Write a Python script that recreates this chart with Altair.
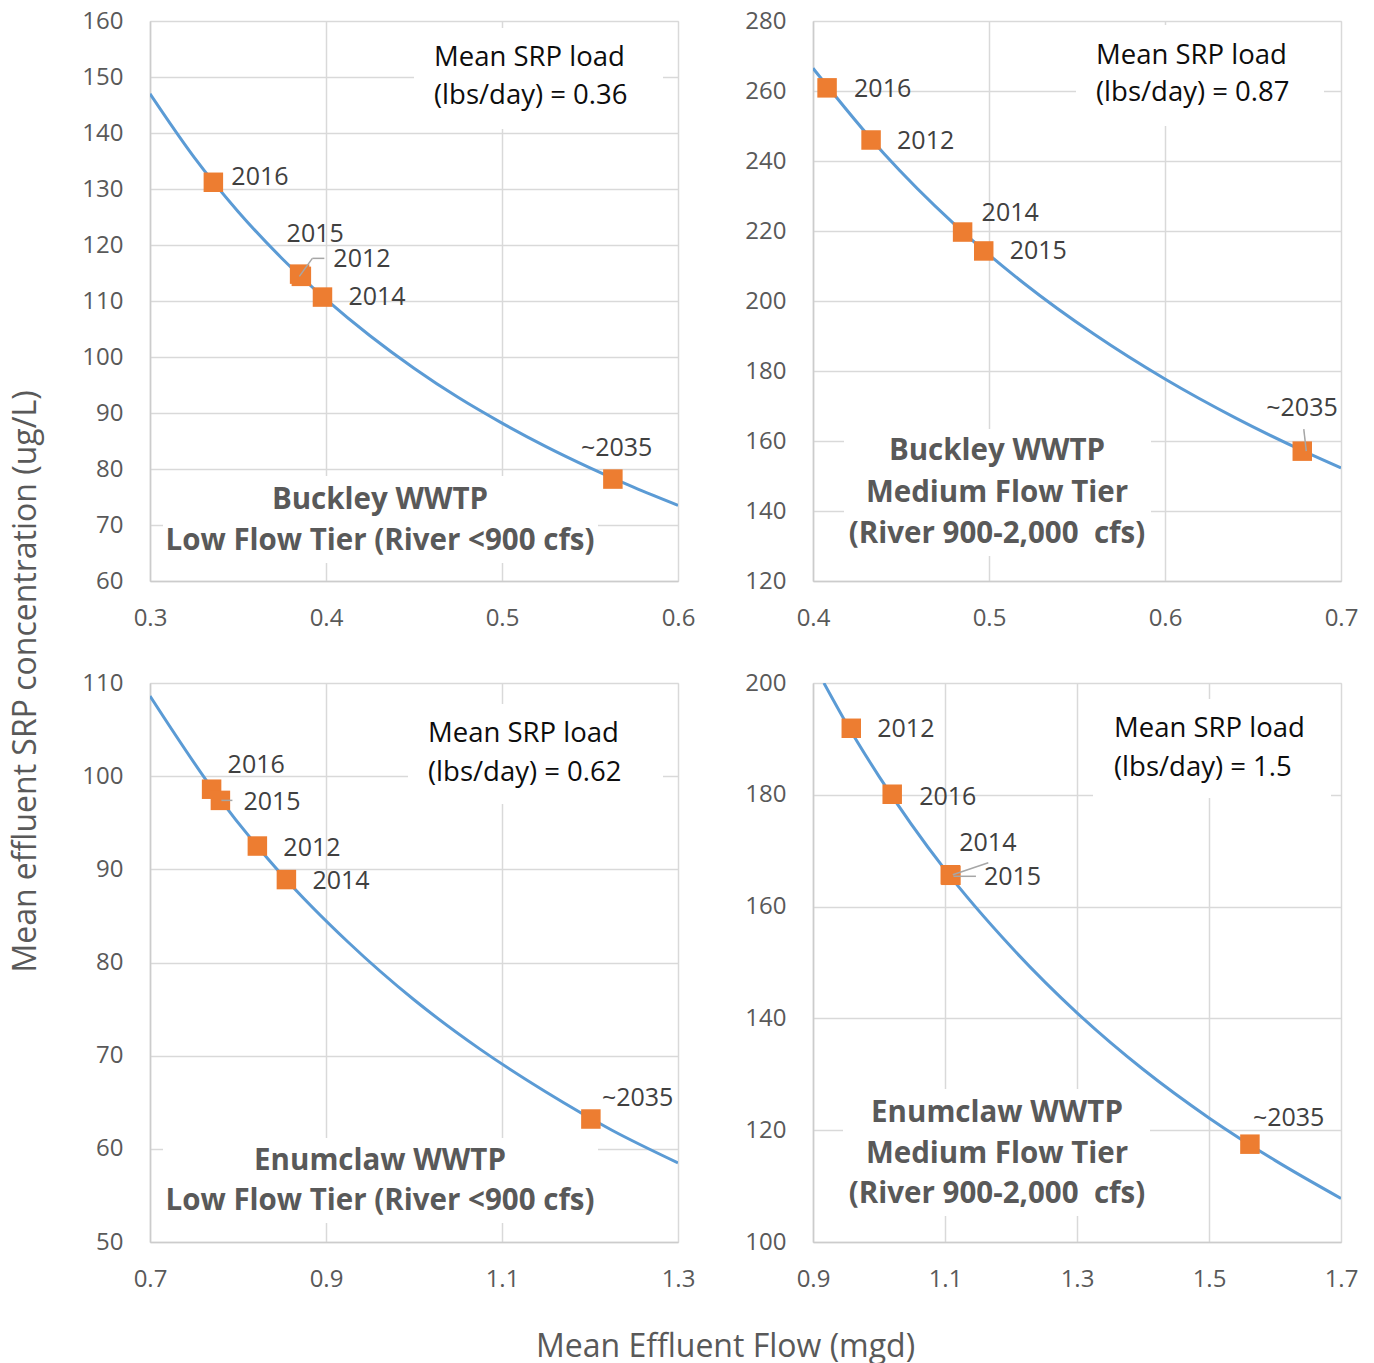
import altair as alt
import pandas as pd

FONT = "Open Sans"
LABEL_GREY = "#595959"
GRID = "#d9d9d9"

# ---------------- data ----------------
# Panel 1: Buckley WWTP, Low Flow Tier
p1_years = ["2016", "2015", "2012", "2014", "~2035"]
p1_flow = [0.336, 0.385, 0.386, 0.398, 0.563]
p1_conc = [131.2, 114.8, 114.4, 110.7, 78.2]
p1_curve_flow = [0.300, 0.325, 0.350, 0.375, 0.400, 0.425, 0.450, 0.475, 0.500, 0.525, 0.550, 0.575, 0.600]
p1_curve_conc = [147.0, 135.7, 126.0, 117.6, 110.3, 103.8, 98.0, 92.8, 88.2, 84.0, 80.2, 76.7, 73.5]
p1_xticks = [0.3, 0.4, 0.5, 0.6]
p1_yticks = [60, 70, 80, 90, 100, 110, 120, 130, 140, 150, 160]
p1_load = ["Mean SRP load", "(lbs/day) = 0.36"]
p1_title = ["Buckley WWTP", "Low Flow Tier (River <900 cfs)"]

# Panel 2: Buckley WWTP, Medium Flow Tier
p2_years = ["2016", "2012", "2014", "2015", "~2035"]
p2_flow = [0.408, 0.433, 0.485, 0.497, 0.678]
p2_conc = [260.9, 246.0, 219.7, 214.3, 157.1]
p2_curve_flow = [0.400, 0.440, 0.480, 0.520, 0.560, 0.600, 0.640, 0.680, 0.700]
p2_curve_conc = [266.5, 242.3, 222.1, 205.0, 190.4, 177.7, 166.6, 156.8, 152.3]
p2_xticks = [0.4, 0.5, 0.6, 0.7]
p2_yticks = [120, 140, 160, 180, 200, 220, 240, 260, 280]
p2_load = ["Mean SRP load", "(lbs/day) = 0.87"]
p2_title = ["Buckley WWTP", "Medium Flow Tier", "(River 900-2,000\u00a0 cfs)"]

# Panel 3: Enumclaw WWTP, Low Flow Tier
p3_years = ["2016", "2015", "2012", "2014", "~2035"]
p3_flow = [0.770, 0.780, 0.822, 0.855, 1.201]
p3_conc = [98.6, 97.4, 92.5, 88.9, 63.2]
p3_curve_flow = [0.700, 0.775, 0.850, 0.925, 1.000, 1.075, 1.150, 1.225, 1.300]
p3_curve_conc = [108.6, 98.1, 89.4, 82.2, 76.0, 70.7, 66.1, 62.0, 58.5]
p3_xticks = [0.7, 0.9, 1.1, 1.3]
p3_yticks = [50, 60, 70, 80, 90, 100, 110]
p3_load = ["Mean SRP load", "(lbs/day) = 0.62"]
p3_title = ["Enumclaw WWTP", "Low Flow Tier (River <900 cfs)"]

# Panel 4: Enumclaw WWTP, Medium Flow Tier
p4_years = ["2012", "2016", "2014", "2015", "~2035"]
p4_flow = [0.958, 1.020, 1.108, 1.109, 1.562]
p4_conc = [191.9, 180.1, 165.7, 165.6, 117.5]
p4_curve_flow = [0.9165, 0.950, 1.000, 1.100, 1.200, 1.300, 1.400, 1.500, 1.600, 1.700]
p4_curve_conc = [200.0, 192.9, 183.3, 166.6, 152.8, 141.0, 130.9, 122.2, 114.6, 107.8]
p4_xticks = [0.9, 1.1, 1.3, 1.5, 1.7]
p4_yticks = [100, 120, 140, 160, 180, 200]
p4_load = ["Mean SRP load", "(lbs/day) = 1.5"]
p4_title = ["Enumclaw WWTP", "Medium Flow Tier", "(River 900-2,000\u00a0 cfs)"]

Y_TITLE = "Mean effluent SRP concentration (ug/L)"
X_TITLE = "Mean Effluent Flow (mgd)"

# ---------------- layout (pixel offsets, styles) ----------------
# per-label text offsets (dx, dy) from its marker, left aligned
p1_lab = {"2016": (18, -5), "2015": (-13, -40), "2012": (32, -17), "2014": (26, 0), "~2035": (-32, -31)}
p2_lab = {"2016": (27, 1), "2012": (26, 1), "2014": (19, -19), "2015": (26, 0), "~2035": (-36, -43)}
p3_lab = {"2016": (16, -24), "2015": (23, 2), "2012": (26, 2), "2014": (26, 1), "~2035": (11, -21)}
p4_lab = {"2012": (26, 1), "2016": (27, 3), "2014": (9, -32), "2015": (33, 2), "~2035": (3, -26)}

# leader lines: year -> list of segments (x1, y1, x2, y2) as pixel offsets from the marker
p1_lead = {"2012": [(23, -18, 11, -18), (11, -18, -2, 0)]}
p2_lead = {"~2035": [(1.5, -22, 4, 0)]}
p3_lead = {"2015": [(1, 0, 12, 0)]}
p4_lead = {"2014": [(38, -12, 2.5, 0)], "2015": [(25, 1, 2.5, 1)]}

# white boxes behind the annotations: (x0, x1, y0, y1) in panel pixels
p1_boxes = [(264, 513, 7, 108), (13, 448, 455, 542)]
p2_boxes = [(263, 511, 4, 105), (31, 338, 408, 535)]
p3_boxes = [(258, 513, 21, 121), (13, 448, 455, 540)]
p4_boxes = [(280, 518, 16, 115), (30, 337, 406, 533)]

p1_load_pos = (284, [37, 75]);  p1_title_pos = (230, [479, 520])
p2_load_pos = (283, [35, 72]);  p2_title_pos = (184, [430, 472, 513])
p3_load_pos = (278, [51, 90]);  p3_title_pos = (230, [478, 518])
p4_load_pos = (301, [46, 85]);  p4_title_pos = (184, [430, 471, 511])

ONE = alt.Data(values=[{"a": 1}])


def panel(years, flow, conc, cflow, cconc, xticks, yticks, xfmt, lab, lead, boxes,
          load, load_pos, title, title_pos, height, ytitle=None, xtitle=None):
    pts = pd.DataFrame({"flow": flow, "conc": conc, "year": years})
    crv = pd.DataFrame({"flow": cflow, "conc": cconc})
    xs = alt.Scale(domain=[xticks[0], xticks[-1]], nice=False, zero=False)
    ys = alt.Scale(domain=[yticks[0], yticks[-1]], nice=False, zero=False)

    xkw = dict(values=xticks, format=xfmt, grid=True, ticks=False,
               labelFontSize=24, labelColor=LABEL_GREY, labelFont=FONT,
               labelPadding=25, gridColor=GRID, gridWidth=1.5,
               domainColor="#cccccc", domainWidth=1.5, labelFlush=False)
    ykw = dict(values=yticks, format="d", grid=True, ticks=False,
               labelFontSize=24, labelColor=LABEL_GREY, labelFont=FONT,
               labelPadding=27, gridColor=GRID, gridWidth=1.5,
               domainColor="#cccccc", domainWidth=1.5, labelFlush=False)
    if xtitle:
        xkw.update(title=xtitle, titleFontSize=32, titleFont=FONT, titleColor=LABEL_GREY,
                   titleFontWeight="normal", titleX=575, titleY=104,
                   titleAlign="center", titleBaseline="middle")
    else:
        xkw.update(title="")
    if ytitle:
        ykw.update(title=ytitle, titleFontSize=32, titleFont=FONT, titleColor=LABEL_GREY,
                   titleFontWeight="normal", titleX=-125, titleY=660, titleAngle=270,
                   titleAlign="center", titleBaseline="middle")
    else:
        ykw.update(title="")

    X = alt.X("flow:Q", scale=xs, axis=alt.Axis(**xkw))
    Y = alt.Y("conc:Q", scale=ys, axis=alt.Axis(**ykw))
    Xp = alt.X("flow:Q", scale=xs)
    Yp = alt.Y("conc:Q", scale=ys)

    layers = []
    for (x0, x1, y0, y1) in boxes:
        layers.append(alt.Chart(ONE).mark_rect(color="white").encode(
            x=alt.value(x0), x2=alt.value(x1), y=alt.value(y0), y2=alt.value(y1)))
    layers.append(alt.Chart(crv).mark_line(color="#5B9BD5", strokeWidth=3,
                                           interpolate="monotone", clip=True).encode(x=X, y=Y))
    layers.append(alt.Chart(pts).mark_square(size=380, color="#ED7D31", opacity=1).encode(x=Xp, y=Yp))
    for yr, segs in lead.items():
        for (a, b, c, d) in segs:
            layers.append(alt.Chart(pts).transform_filter(alt.datum.year == yr).mark_rule(
                color="#a6a6a6", strokeWidth=1.5,
                xOffset=a, yOffset=b, x2Offset=c, y2Offset=d).encode(
                x=Xp, y=Yp, x2="flow:Q", y2="conc:Q"))
    for yr, (dx, dy) in lab.items():
        layers.append(alt.Chart(pts).transform_filter(alt.datum.year == yr).mark_text(
            align="left", baseline="middle", dx=dx, dy=dy, fontSize=25,
            font=FONT, color="#404040").encode(x=Xp, y=Yp, text="year:N"))
    lx, lys = load_pos
    for line, ly in zip(load, lys):
        layers.append(alt.Chart(ONE).mark_text(
            align="left", baseline="middle", fontSize=27.5, font=FONT, color="#0d0d0d").encode(
            x=alt.value(lx), y=alt.value(ly), text=alt.value(line)))
    tx, tys = title_pos
    for line, ty in zip(title, tys):
        layers.append(alt.Chart(ONE).mark_text(
            align="center", baseline="middle", fontSize=29.5, font=FONT, fontWeight="bold",
            color=LABEL_GREY).encode(
            x=alt.value(tx), y=alt.value(ty), text=alt.value(line)))
    return alt.layer(*layers).properties(width=528, height=height)


c1 = panel(p1_years, p1_flow, p1_conc, p1_curve_flow, p1_curve_conc, p1_xticks, p1_yticks, ".1f",
           p1_lab, p1_lead, p1_boxes, p1_load, p1_load_pos, p1_title, p1_title_pos, 560, ytitle=Y_TITLE)
c2 = panel(p2_years, p2_flow, p2_conc, p2_curve_flow, p2_curve_conc, p2_xticks, p2_yticks, ".1f",
           p2_lab, p2_lead, p2_boxes, p2_load, p2_load_pos, p2_title, p2_title_pos, 560)
c3 = panel(p3_years, p3_flow, p3_conc, p3_curve_flow, p3_curve_conc, p3_xticks, p3_yticks, ".1f",
           p3_lab, p3_lead, p3_boxes, p3_load, p3_load_pos, p3_title, p3_title_pos, 559, xtitle=X_TITLE)
c4 = panel(p4_years, p4_flow, p4_conc, p4_curve_flow, p4_curve_conc, p4_xticks, p4_yticks, ".1f",
           p4_lab, p4_lead, p4_boxes, p4_load, p4_load_pos, p4_title, p4_title_pos, 559)

chart = alt.concat(c1, c2, c3, c4, columns=2, bounds="flush",
                   spacing={"row": 102, "column": 135}).properties(
    padding={"left": 0, "top": 0, "right": 5, "bottom": 5}
).configure_view(stroke=None).configure(font=FONT, background="white")

chart.save("out.html", embed_options={"renderer": "svg", "actions": False})
